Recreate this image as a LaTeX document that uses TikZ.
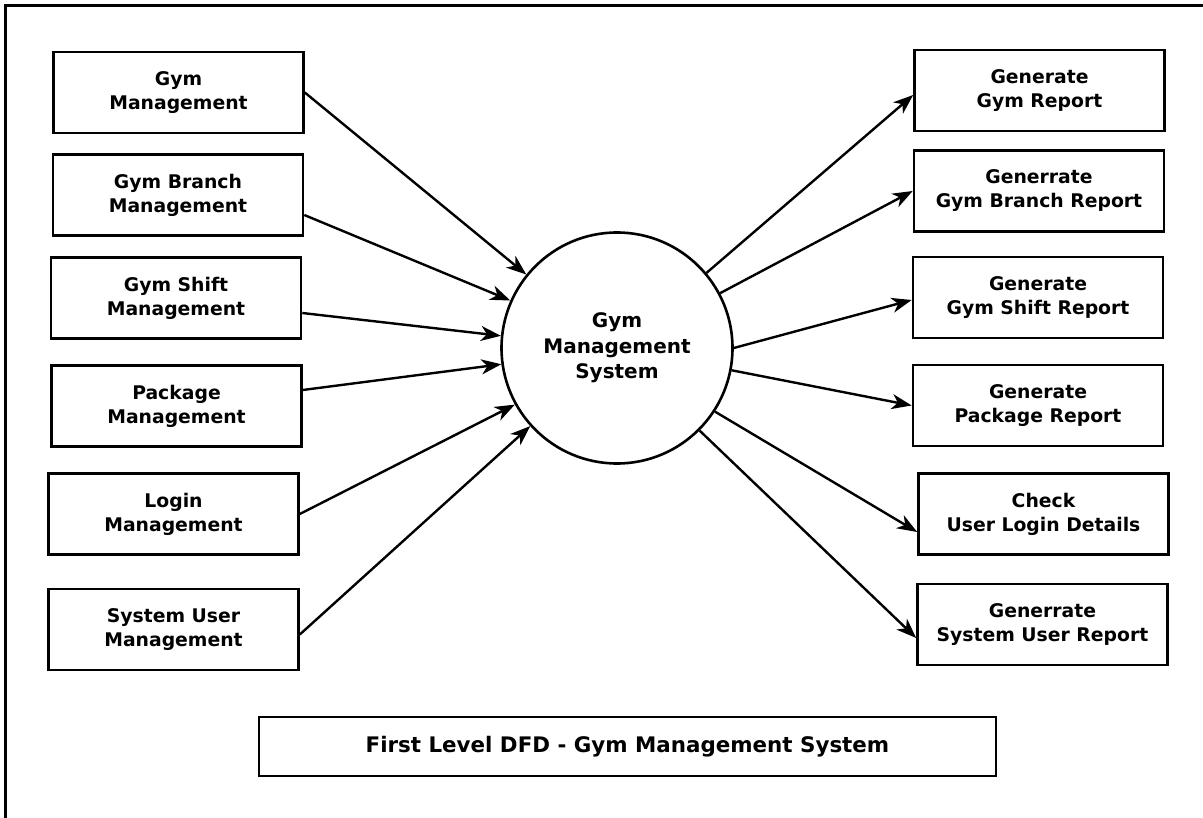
\documentclass[tikz,border=0pt]{standalone}
\usepackage{fontspec}
\setmainfont{DejaVu Sans}
\usetikzlibrary{arrows.meta}

\begin{document}
\begin{tikzpicture}[x=1pt,y=-1pt,
		proc/.style={draw,line width=2.6pt,minimum width=250pt,minimum height=81pt,align=center,font=\bfseries\fontsize{18.8}{24}\selectfont},
		flow/.style={line width=2.4pt,-{Stealth[length=20pt,width=15pt,inset=6pt]}}]
			\useasboundingbox (0,0) rectangle (1203,818);
			\draw[line width=3pt] (5.5,818)--(5.5,5.5)--(1203,5.5);
			% sources on the left
			\node[proc] (gym) at (178.5,92.5) {Gym\\Management};
			\node[proc] (branch) at (178,195) {Gym Branch\\Management};
			\node[proc] (shift) at (176,298) {Gym Shift\\Management};
			\node[proc] (package) at (176.5,406) {Package\\Management};
			\node[proc] (login) at (173.5,514) {Login\\Management};
			\node[proc] (sysuser) at (173.5,629.5) {System User\\Management};
			% central process
			\node[draw,circle,line width=2.6pt,minimum size=231pt,align=center,font=\bfseries\fontsize{20}{25.5}\selectfont] (gms) at (617,348) {Gym\\Management\\System};
			% reports on the right
			\node[proc] (gymrep) at (1039.5,90.5) {Generate\\Gym Report};
			\node[proc] (branchrep) at (1039,191) {Generrate\\Gym Branch Report};
			\node[proc] (shiftrep) at (1038,297.5) {Generate\\Gym Shift Report};
			\node[proc] (packagerep) at (1038,405.5) {Generate\\Package Report};
			\node[proc] (check) at (1043.5,514) {Check\\User Login Details};
			\node[proc] (sysuserrep) at (1042.5,624.5) {Generrate\\System User Report};
			\node[draw,line width=2.6pt,minimum width=737pt,minimum height=59pt,font=\bfseries\fontsize{21.4}{24}\selectfont] (title) at (627.5,746.5) {First Level DFD - Gym Management System};
			% flows in
			\draw[flow] (gym.east)--(gms.141);
			\draw[flow] ([yshift=-20pt]branch.east)--(gms.156);
			\draw[flow] ([yshift=-15pt]shift.east)--(gms.174);
			\draw[flow] ([yshift=16pt]package.east)--(gms.188);
			\draw[flow] (login.east)--(gms.209);
			\draw[flow] ([yshift=-5pt]sysuser.east)--(gms.222);
			% flows out
			\draw[flow] (gms.40)--([yshift=-4.5pt]gymrep.west);
			\draw[flow] (gms.28)--(branchrep.west);
			\draw[flow] (gms.0)--([yshift=-2.5pt]shiftrep.west);
			\draw[flow] (gms.-11)--(packagerep.west);
			\draw[flow] (gms.-33)--([yshift=-18pt]check.west);
			\draw[flow] (gms.-45)--([yshift=-13.5pt]sysuserrep.west);
		\end{tikzpicture}
\end{document}
